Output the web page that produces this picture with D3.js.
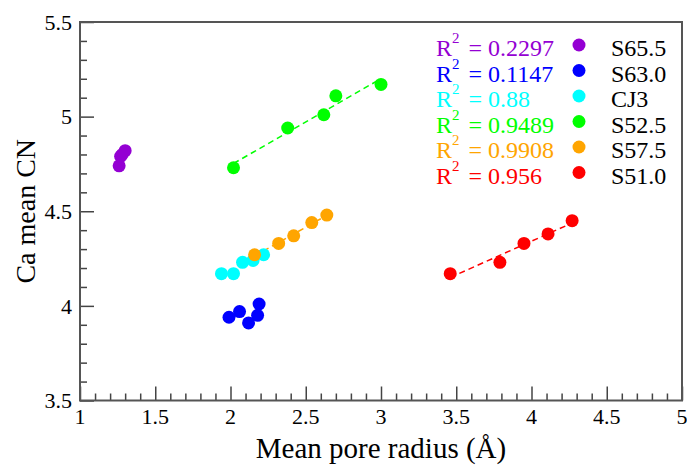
<!DOCTYPE html>
<html><head><meta charset="utf-8">
<script src="https://cdn.jsdelivr.net/npm/d3@7"></script>
<style>
body{margin:0;background:#fff}
svg{display:block}
text{font-family:"Liberation Serif","Times New Roman",serif}
</style>
</head><body>
<svg id="chart" width="687" height="466"></svg>
<script>
// ---- data ----
const seriesNames = ["S65.5", "S63.0", "CJ3", "S52.5", "S57.5", "S51.0"];
const r2Labels = ["0.2297", "0.1147", "0.88", "0.9489", "0.9908", "0.956"];
const s655X = [1.26, 1.27, 1.28, 1.30];
const s655Y = [4.74, 4.79, 4.80, 4.82];
const s630X = [1.99, 2.06, 2.12, 2.18, 2.19];
const s630Y = [3.94, 3.97, 3.91, 3.95, 4.01];
const cj3X = [1.94, 2.02, 2.08, 2.15, 2.22];
const cj3Y = [4.17, 4.17, 4.23, 4.24, 4.27];
const s525X = [2.02, 2.38, 2.62, 2.70, 3.00];
const s525Y = [4.73, 4.94, 5.01, 5.11, 5.17];
const s575X = [2.16, 2.32, 2.42, 2.54, 2.64];
const s575Y = [4.27, 4.33, 4.37, 4.44, 4.48];
const s510X = [3.46, 3.79, 3.95, 4.11, 4.27];
const s510Y = [4.17, 4.23, 4.33, 4.38, 4.45];
const xTickValues = [1, 1.5, 2, 2.5, 3, 3.5, 4, 4.5, 5];
const yTickValues = [3.5, 4, 4.5, 5, 5.5];
const xTitle = "Mean pore radius (Å)";
const yTitle = "Ca mean CN";

// ---- styles ----
const colors = ["#9400D3", "#0000FF", "#00FFFF", "#00FF00", "#FFA500", "#FF0000"];
const fitted = [false, false, false, true, true, true];
const seriesX = [s655X, s630X, cj3X, s525X, s575X, s510X];
const seriesY = [s655Y, s630Y, cj3Y, s525Y, s575Y, s510Y];

const L = 80, R = 682, T = 22, B = 400.5;
const svg = d3.select("#chart");
const x = d3.scaleLinear().domain([1, 5]).range([L, R]);
const y = d3.scaleLinear().domain([3.5, 5.5]).range([B, T]);

// minor + major ticks (inward)
const axisColor = "#444";
const xMinor = d3.range(10, 51).map(d => d / 10);
const yMinor = d3.range(35, 56).map(d => d / 10);
const isMajor = v => Math.abs(v * 2 - Math.round(v * 2)) < 1e-6;

const gx = svg.append("g").attr("transform", `translate(0,${B})`)
  .call(d3.axisTop(x).tickValues(xMinor.filter(v => !isMajor(v))).tickSize(7).tickFormat(""));
const gx2 = svg.append("g").attr("transform", `translate(0,${B})`)
  .call(d3.axisTop(x).tickValues(xTickValues).tickSize(14).tickFormat(""));
const gy = svg.append("g").attr("transform", `translate(${L},0)`)
  .call(d3.axisRight(y).tickValues(yMinor.filter(v => !isMajor(v))).tickSize(7).tickFormat(""));
const gy2 = svg.append("g").attr("transform", `translate(${L},0)`)
  .call(d3.axisRight(y).tickValues(yTickValues).tickSize(14).tickFormat(""));
[gx, gx2, gy, gy2].forEach(g => {
  g.select(".domain").remove();
  g.selectAll("line").attr("stroke", axisColor).attr("stroke-width", 1.5);
});

// tick labels
svg.append("g").selectAll("text").data(xTickValues).join("text")
  .attr("x", d => x(d)).attr("y", B + 23)
  .attr("text-anchor", "middle").attr("font-size", 22).attr("fill", "#000")
  .text(d => String(d));
svg.append("g").selectAll("text").data(yTickValues).join("text")
  .attr("x", L - 8).attr("y", d => y(d)).attr("dy", "0.35em")
  .attr("text-anchor", "end").attr("font-size", 22).attr("fill", "#000")
  .text(d => String(d));

// frame
svg.append("rect").attr("x", L).attr("y", T).attr("width", R - L).attr("height", B - T)
  .attr("fill", "none").attr("stroke", "#555").attr("stroke-width", 2);

// axis titles
svg.append("text").attr("x", (L + R) / 2).attr("y", 458)
  .attr("text-anchor", "middle").attr("font-size", 29).text(xTitle);
svg.append("text").attr("transform", `translate(35,${(T + B) / 2}) rotate(-90)`)
  .attr("text-anchor", "middle").attr("font-size", 28).text(yTitle);

// fit lines
seriesX.forEach((xs, i) => {
  if (!fitted[i]) return;
  const ys = seriesY[i];
  const mx = d3.mean(xs), my = d3.mean(ys);
  const slope = d3.sum(xs, (v, k) => (v - mx) * (ys[k] - my)) / d3.sum(xs, v => (v - mx) ** 2);
  const icpt = my - slope * mx;
  const x0 = d3.min(xs), x1 = d3.max(xs);
  svg.append("line")
    .attr("x1", x(x0)).attr("y1", y(icpt + slope * x0))
    .attr("x2", x(x1)).attr("y2", y(icpt + slope * x1))
    .attr("stroke", colors[i]).attr("stroke-width", 1.5)
    .attr("stroke-dasharray", "6,4");
});

// points
seriesX.forEach((xs, i) => {
  svg.append("g").selectAll("circle").data(xs.map((v, k) => [v, seriesY[i][k]])).join("circle")
    .attr("cx", d => x(d[0])).attr("cy", d => y(d[1])).attr("r", 6.5)
    .attr("fill", colors[i]);
});

// legend
const lg = svg.append("g");
seriesNames.forEach((name, i) => {
  const base = 56 + i * 25.5;
  const t = lg.append("text").attr("x", 436).attr("y", base).attr("font-size", 24).attr("fill", colors[i]);
  t.append("tspan").text("R");
  t.append("tspan").attr("font-size", 15).attr("dy", -13).text("2");
  t.append("tspan").attr("dy", 13).attr("dx", 3).text(" = " + r2Labels[i]);
  lg.append("circle").attr("cx", 579).attr("cy", base - 11).attr("r", 6.5).attr("fill", colors[i]);
  lg.append("text").attr("x", 611).attr("y", base).attr("font-size", 24).attr("fill", "#000").text(name);
});
</script>
</body></html>
